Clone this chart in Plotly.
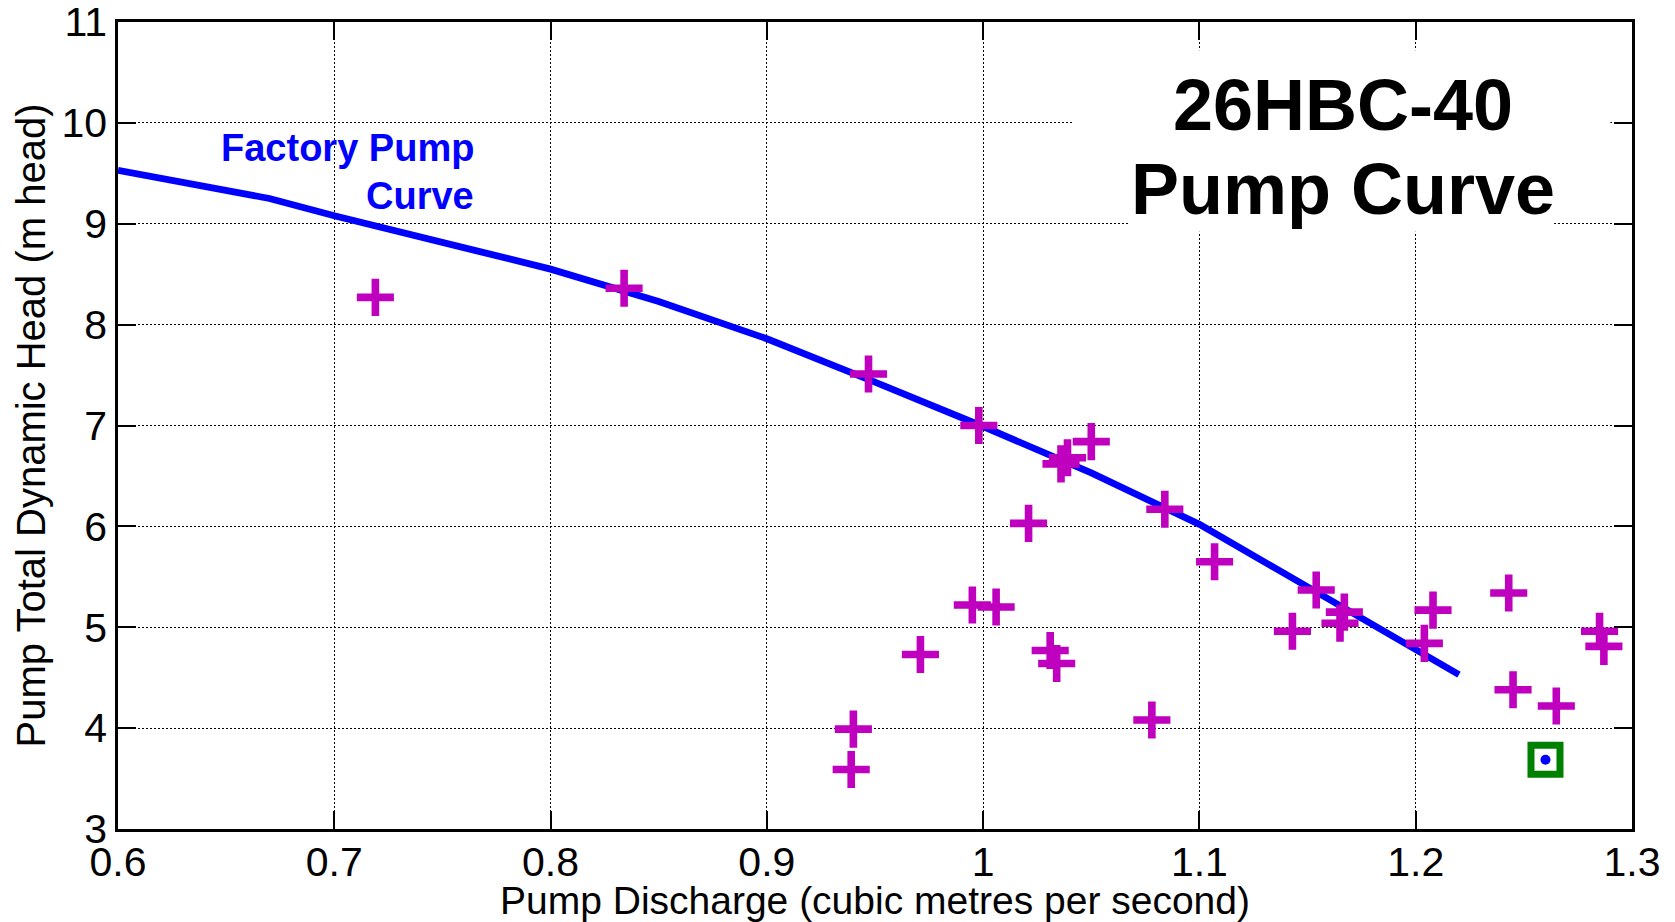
import plotly.graph_objects as go

# Factory pump curve
curve_q = [0.6, 0.67, 0.7, 0.75, 0.8, 0.85, 0.9, 0.95, 1.0, 1.05, 1.1, 1.15, 1.2, 1.22]
curve_h = [9.53, 9.25, 9.08, 8.82, 8.55, 8.23, 7.86, 7.43, 6.99, 6.53, 6.02, 5.40, 4.79, 4.53]

# Measured points
meas_q = [0.719, 0.834, 0.947, 0.998, 1.036, 1.039, 1.050, 1.021, 0.995, 1.006,
          0.971, 1.031, 1.034, 0.940, 0.939, 1.078, 1.084, 1.107, 1.154, 1.143,
          1.167, 1.165, 1.208, 1.204, 1.243, 1.245, 1.265, 1.285, 1.287]
meas_h = [8.27, 8.36, 7.51, 7.00, 6.62, 6.68, 6.84, 6.03, 5.22, 5.20,
          4.73, 4.77, 4.64, 3.99, 3.59, 4.08, 6.17, 5.65, 5.37, 4.96,
          5.15, 5.04, 5.17, 4.84, 5.34, 4.38, 4.22, 4.96, 4.81]

# Highlighted operating point
op_q = [1.26]
op_h = [3.686]

x_ticks = [0.6, 0.7, 0.8, 0.9, 1.0, 1.1, 1.2, 1.3]
x_labels = ["0.6", "0.7", "0.8", "0.9", "1", "1.1", "1.2", "1.3"]
y_ticks = [3, 4, 5, 6, 7, 8, 9, 10, 11]

FONT = "Liberation Sans, Arial, sans-serif"

fig = go.Figure()
fig.add_trace(go.Scatter(x=curve_q, y=curve_h, mode="lines",
                         line=dict(color="#0000FF", width=6.8), showlegend=False))
fig.add_trace(go.Scatter(x=meas_q, y=meas_h, mode="markers",
                         marker=dict(symbol="cross-thin", size=26.5,
                                     line=dict(color="#BF00BF", width=7.6)),
                         showlegend=False))
fig.add_trace(go.Scatter(x=op_q, y=op_h, mode="markers",
                         marker=dict(symbol="square-open", size=29, color="#008000",
                                     line=dict(color="#008000", width=7)),
                         showlegend=False))
fig.add_trace(go.Scatter(x=op_q, y=op_h, mode="markers",
                         marker=dict(symbol="circle", size=10, color="#0000FF"),
                         showlegend=False))

# white background boxes behind the title text
fig.add_shape(type="rect", x0=1.042, x1=1.290, y0=9.73, y1=10.72,
              fillcolor="white", line=dict(width=0), layer="between")
fig.add_shape(type="rect", x0=1.067, x1=1.264, y0=8.92, y1=9.73,
              fillcolor="white", line=dict(width=0), layer="between")

fig.add_annotation(x=1.1662, y=10.18, text="<b>26HBC-40</b>", showarrow=False,
                   xanchor="center", yanchor="middle",
                   font=dict(family=FONT, size=72, color="black"))
fig.add_annotation(x=1.1662, y=9.34, text="<b>Pump Curve</b>", showarrow=False,
                   xanchor="center", yanchor="middle",
                   font=dict(family=FONT, size=72, color="black"))
fig.add_annotation(x=0.7655, y=9.75, text="<b>Factory Pump</b>", showarrow=False,
                   xanchor="right", yanchor="middle",
                   font=dict(family=FONT, size=38, color="#0000FF"))
fig.add_annotation(x=0.7655, y=9.28, text="<b>Curve</b>", showarrow=False,
                   xanchor="right", yanchor="middle",
                   font=dict(family=FONT, size=38, color="#0000FF"))

axis_common = dict(showline=True, linecolor="black", linewidth=2.5, mirror="allticks",
                   ticks="inside", ticklen=18, tickwidth=1.5, tickcolor="black",
                   showgrid=True, gridcolor="black", gridwidth=1, griddash="2px,2px",
                   zeroline=False, ticklabeloverflow="allow",
                   tickfont=dict(family=FONT, size=41, color="black"))

fig.update_xaxes(range=[0.6, 1.3], tickvals=x_ticks, ticktext=x_labels,
                 ticklabelstandoff=-5,
                 title=dict(text="Pump Discharge (cubic metres per second)",
                            font=dict(family=FONT, size=39, color="black"), standoff=2),
                 **axis_common)
fig.update_yaxes(range=[3, 11], tickvals=y_ticks,
                 title=dict(text="Pump Total Dynamic Head (m head)",
                            font=dict(family=FONT, size=40, color="black"), standoff=4),
                 **axis_common)

fig.update_layout(width=1675, height=922, plot_bgcolor="white", paper_bgcolor="white",
                  margin=dict(l=118, r=43, t=22, b=93, autoexpand=False),
                  font=dict(family=FONT))

fig.write_html("out.html")
